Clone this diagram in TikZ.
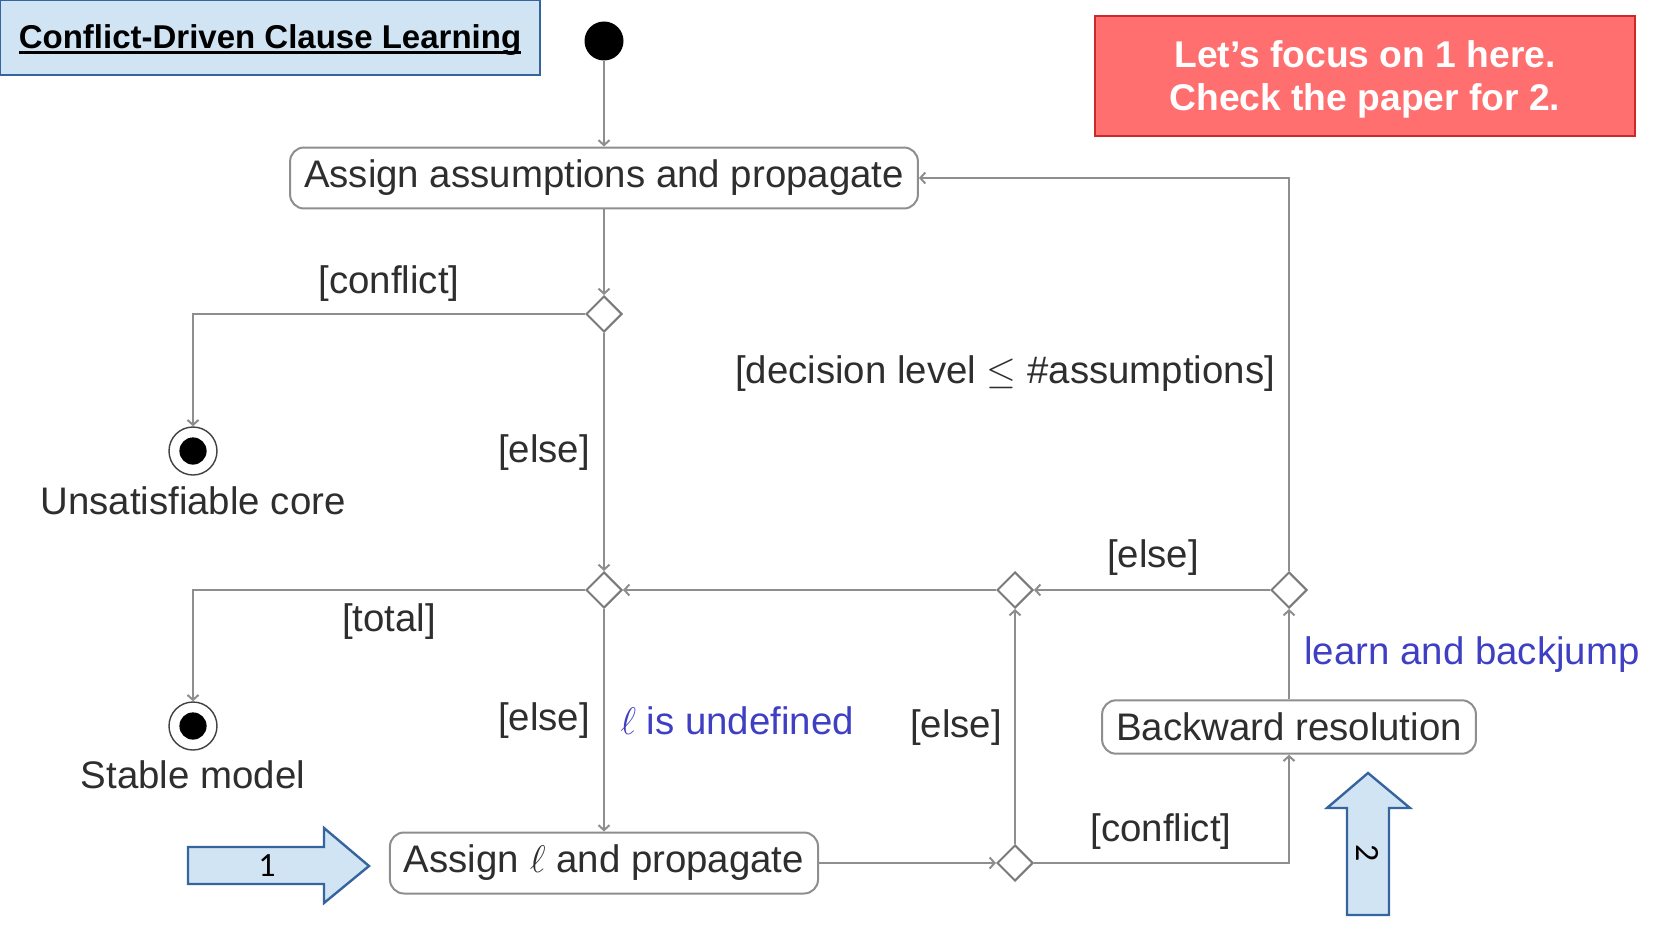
\RequirePackage{fix-cm}
\documentclass[tikz,border=0pt]{standalone}
\usepackage{fontspec}
\setmainfont{Liberation Sans}
\newfontfamily\numfont{Carlito}
\usetikzlibrary{shapes.geometric,arrows.meta}
\definecolor{linegray}{HTML}{8E8E8E}
\definecolor{diagray}{HTML}{7A7A7A}
\definecolor{textgray}{HTML}{2E2E2E}
\definecolor{annblue}{HTML}{3F3FC4}
\definecolor{ptrblue}{HTML}{36649E}
\definecolor{ptrfill}{HTML}{D0E4F4}
\definecolor{notefill}{HTML}{FF6F6F}
\definecolor{noteline}{HTML}{CC2A2A}
\newcommand{\diagfont}{\fontsize{19.2}{23}\selectfont}
\newcommand{\titleuline}[1]{\setbox0=\hbox{#1}\rlap{\rule[-2.6pt]{\wd0}{1.2pt}}\box0}
\begin{document}
\begin{tikzpicture}[x=0.5pt,y=-0.5pt,
  >={Straight Barb[length=2.5pt,width=5.5pt]},
  activity/.style={draw=linegray, line width=1pt, rounded corners=7pt, inner xsep=7pt, inner ysep=6.3pt, fill=white, font=\diagfont, text=textgray},
  decision/.style={diamond, draw=diagray, line width=1pt, minimum size=18pt, inner sep=0pt, fill=white},
  startdot/.style={circle, fill=black, minimum size=19.5pt, inner sep=0pt},
  enddot/.style={circle, draw=black!75, line width=0.7pt, minimum size=24pt, inner sep=0pt, path picture={\fill[black] (path picture bounding box.center) circle (6.8pt);}},
  guard/.style={font=\diagfont, text=textgray, inner sep=0pt},
  remark/.style={font=\diagfont, text=annblue, inner sep=0pt},
  flow/.style={draw=linegray, line width=1pt, ->},
  pointer/.style={draw=ptrblue, line width=1.2pt, fill=ptrfill, line join=miter}]
\useasboundingbox (0,0) rectangle (1654,931);
% header boxes
\node[draw=ptrblue, line width=1.2pt, fill=ptrfill, minimum width=270pt, minimum height=37.5pt] (title) at (270,37.5) {};
\node[inner sep=0pt, font=\fontsize{16.5}{20}\selectfont\bfseries] (titletext) at (270,40) {\titleuline{Conflict-Driven Clause Learning}};
\node[draw=noteline, line width=1pt, fill=notefill, minimum width=270pt, minimum height=60pt] (focus) at (1365,76) {};
\node[inner sep=0pt, align=center, text=white, font=\fontsize{18.6}{21.6}\selectfont\bfseries] (focustext) at (1365,79) {Let’s focus on 1 here.\\ Check the paper for 2.};
% activity diagram
\node[startdot] (init) at (604,41) {};
\node[activity] (assume) at (604,178) {Assign assumptions and propagate};
\node[decision] (d1) at (604,314) {};
\node[enddot] (unsat) at (193,451) {};
\node[guard] (unsatname) at (193,501) {Unsatisfiable core};
\node[decision] (d2) at (604,590) {};
\node[enddot] (stable) at (193,726) {};
\node[guard] (stablename) at (193,775) {Stable model};
\node[activity] (assignl) at (604,863) {Assign $\ell$ and propagate};
\node[decision] (d3) at (1015,863) {};
\node[decision] (d4) at (1015,590) {};
\node[activity] (backres) at (1289,727) {Backward resolution};
\node[decision] (d5) at (1289,590) {};
% guards and remarks
\node[guard] (gconf1) at (389,284) {[conflict]};
\node[guard] (gelse1) at (544,453) {[else]};
\node[guard] (gtotal) at (389,622) {[total]};
\node[guard] (gelse2) at (544,721) {[else]};
\node[remark, anchor=west] (rundef) at (620,721) {$\ell$ is undefined};
\node[guard] (gelse3) at (956,728) {[else]};
\node[guard] (gconf2) at (1161,832) {[conflict]};
\node[remark, anchor=west] (rlearn) at (1304,655) {learn and backjump};
\node[guard] (gelse4) at (1153,558) {[else]};
\node[guard] (gdec) at (1005,374) {[decision level $\leq$ \#assumptions]};
% flows
\draw[flow] (init) -- (assume);
\draw[flow] (assume) -- (d1);
\draw[flow] (d1) -| (unsat);
\draw[flow] (d1) -- (d2);
\draw[flow] (d2) -| (stable);
\draw[flow] (d2) -- (assignl);
\draw[flow] (assignl) -- (d3);
\draw[flow] (d3) -- (d4);
\draw[flow] (d4) -- (d2);
\draw[flow] (d3) -| (backres);
\draw[flow] (backres) -- (d5);
\draw[flow] (d5) -- (d4);
\draw[flow] (d5) |- (assume);
% pointers
\draw[pointer] (188,847) -- (324,847) -- (324,828) -- (369,866) -- (324,903) -- (324,884) -- (188,884) -- cycle;
\node[font=\numfont\fontsize{17}{20}\selectfont] (one) at (267,866) {1};
\draw[pointer] (1347,915) -- (1347,808) -- (1327,808) -- (1368,773) -- (1410,808) -- (1389,808) -- (1389,915) -- cycle;
\node[font=\numfont\fontsize{17}{20}\selectfont, rotate=-90] (two) at (1368,853) {2};
\end{tikzpicture}
\end{document}
